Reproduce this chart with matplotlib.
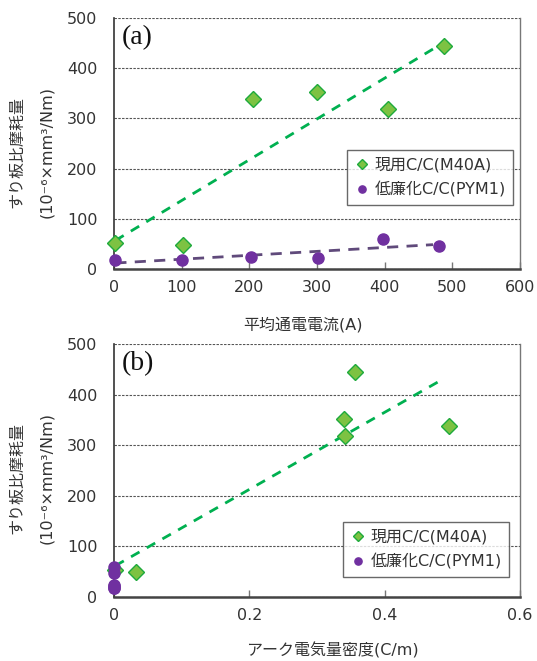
import numpy as np
import matplotlib
matplotlib.use("Agg")
import matplotlib.pyplot as plt

plt.rcParams['font.family'] = ['DejaVu Sans', 'Noto Sans CJK JP']

# Data
current_m40a = [2, 102, 206, 300, 405, 488]
wear_m40a = [52, 48, 338, 352, 318, 444]
current_pym1 = [2, 100, 202, 301, 398, 481]
wear_pym1 = [18, 17, 24, 22, 59, 46]

arc_m40a = [0.002, 0.0325, 0.340, 0.341, 0.356, 0.495]
wear_m40a_b = [53, 50, 352, 319, 444, 337]
arc_pym1 = [0.0, 0.0, 0.0, 0.0, 0.0, 0.0]
wear_pym1_b = [18, 22, 24, 17, 59, 47]

label_m40a = "現用C/C(M40A)"
label_pym1 = "低廉化C/C(PYM1)"
ylabel1 = "すり板比摩耗量"
ylabel2 = "(10⁻⁶×mm³/Nm)"
xlabel_a = "平均通電電流(A)"
xlabel_b = "アーク電気量密度(C/m)"
xticks_a = [0, 100, 200, 300, 400, 500, 600]
xticks_b = [0, 0.2, 0.4, 0.6]
yticks = [0, 100, 200, 300, 400, 500]

GREEN_FILL = '#7dc242'
GREEN_EDGE = '#1eaa3c'
GREEN_LINE = '#00b050'
PURPLE = '#7030a0'
PURPLE_LINE = '#604a7b'
TXT = '#333333'

W, H = 537, 661
fig = plt.figure(figsize=(W / 100, H / 100), dpi=100)

def make_ax(top_px, bottom_px):
    left, right = 114, 520
    return fig.add_axes([left / W, 1 - bottom_px / H, (right - left) / W, (bottom_px - top_px) / H])

ax_a = make_ax(18, 269)
ax_b = make_ax(344, 597)

def style(ax, xticks, xticklabels, xlim):
    ax.set_ylim(0, 500)
    ax.set_xlim(*xlim)
    ax.set_yticks(yticks)
    ax.set_xticks(xticks)
    ax.set_xticklabels(xticklabels)
    ax.yaxis.grid(True, color='#555555', linestyle=(0, (2.2, 1.2)), linewidth=0.8)
    ax.set_axisbelow(True)
    ax.spines['top'].set_visible(False)
    ax.spines['left'].set_color('#333333')
    ax.spines['left'].set_linewidth(1.2)
    ax.spines['bottom'].set_color('#444444')
    ax.spines['bottom'].set_linewidth(1.8)
    ax.spines['right'].set_color('#777777')
    ax.spines['right'].set_linewidth(1.0)
    ax.tick_params(axis='y', length=0, pad=12, labelsize=11.5, labelcolor=TXT)
    ax.tick_params(axis='x', direction='in', length=5, width=1, color='#777777',
                   pad=8, labelsize=11.5, labelcolor=TXT)

style(ax_a, xticks_a, [str(v) for v in xticks_a], (0, 600))
style(ax_b, xticks_b, ['0', '0.2', '0.4', '0.6'], (0, 0.6))

def trend(ax, x, y, color, dash):
    x = np.asarray(x, float); y = np.asarray(y, float)
    k, b = np.polyfit(x, y, 1)
    xs = np.array([x.min(), x.max() - 0.02 * (x.max() - x.min())])
    ax.plot(xs, k * xs + b, color=color, linestyle=dash, linewidth=2, zorder=2)

DS = 8
CS = 8

# Panel (a)
trend(ax_a, current_m40a, wear_m40a, GREEN_LINE, (0, (3.5, 3)))
trend(ax_a, current_pym1, wear_pym1, PURPLE_LINE, (0, (4, 3)))
ax_a.plot(current_m40a, wear_m40a, linestyle='none', marker='D', markersize=DS,
          markerfacecolor=GREEN_FILL, markeredgecolor=GREEN_EDGE, markeredgewidth=1,
          label=label_m40a, zorder=3, clip_on=False)
ax_a.plot(current_pym1, wear_pym1, linestyle='none', marker='o', markersize=CS,
          color=PURPLE, label=label_pym1, zorder=3, clip_on=False)

# Panel (b)
trend(ax_b, arc_m40a, wear_m40a_b, GREEN_LINE, (0, (3.5, 3)))
ax_b.plot(arc_m40a, wear_m40a_b, linestyle='none', marker='D', markersize=DS,
          markerfacecolor=GREEN_FILL, markeredgecolor=GREEN_EDGE, markeredgewidth=1,
          label=label_m40a, zorder=3, clip_on=False)
ax_b.plot(arc_pym1, wear_pym1_b, linestyle='none', marker='o', markersize=CS,
          color=PURPLE, label=label_pym1, zorder=4, clip_on=False)

for ax, lbl, bbox in [(ax_a, '(a)', (347, 150, 513, 208)), (ax_b, '(b)', (342, 522, 509, 582))]:
    ax.text(0.018, 0.97, lbl, transform=ax.transAxes, ha='left', va='top',
            fontsize=20, family='Liberation Serif', color='#111111')
    x0, y0, x1, y1 = bbox
    leg = ax.legend(loc='upper right', frameon=True, fancybox=False, fontsize=11.5,
                    markerscale=0.65, handletextpad=0.3, borderpad=0.45,
                    labelspacing=0.55, handlelength=1.0, borderaxespad=0,
                    bbox_to_anchor=(x1 / W, 1 - y0 / H), bbox_transform=fig.transFigure)
    leg.get_frame().set_edgecolor('#444444')
    leg.get_frame().set_linewidth(1.0)
    for t in leg.get_texts():
        t.set_color(TXT)

# y labels
for cy in [152, 478]:
    fig.text(17 / W, 1 - cy / H, ylabel1, rotation=90, ha='center', va='center',
             fontsize=11.5, color=TXT)
    fig.text(47 / W, 1 - cy / H, ylabel2, rotation=90, ha='center', va='center',
             fontsize=11.5, color=TXT)

fig.text(303 / W, 1 - 325 / H, xlabel_a, ha='center', va='center', fontsize=11.5, color=TXT)
fig.text(332 / W, 1 - 650 / H, xlabel_b, ha='center', va='center', fontsize=11.5, color=TXT)

fig.savefig('out.png', dpi=100, facecolor='white')
